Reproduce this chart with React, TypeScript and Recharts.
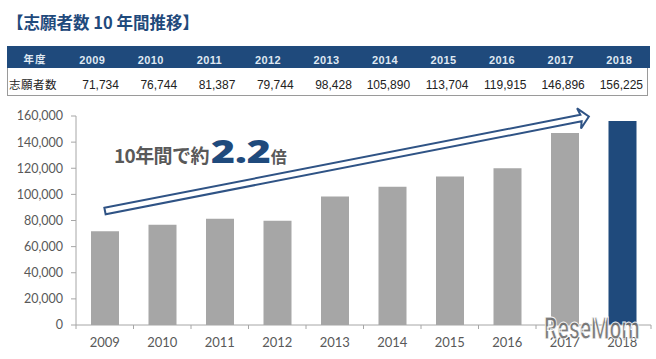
import { BarChart, Bar, XAxis, YAxis, Cell } from 'recharts';

const years = ['2009', '2010', '2011', '2012', '2013', '2014', '2015', '2016', '2017', '2018'];
const applicants = [71734, 76744, 81387, 79744, 98428, 105890, 113704, 119915, 146896, 156225];
const yTicks = [0, 20000, 40000, 60000, 80000, 100000, 120000, 140000, 160000];

const TITLE = '【志願者数 10 年間推移】';
const ROW_HEAD = '年度';
const ROW_LABEL = '志願者数';
const NOTE_LEAD = '10年間で約';
const NOTE_NUM = '2.2';
const NOTE_TAIL = '倍';

const NAVY = '#1f4a7c';
const BAR_GRAY = '#a6a6a6';
const AXIS_GRAY = '#a6a6a6';
const TEXT_GRAY = '#595959';

const W = 656;
const H = 359;
const PLOT_LEFT = 76;
const PLOT_RIGHT = 5;
const BAND = (W - PLOT_LEFT - PLOT_RIGHT) / years.length;

const data = years.map((year, i) => ({ year, value: applicants[i] }));

const fmt = (v: number) => v.toLocaleString('en-US');

// Excel-style x ticks: label in the middle, tick marks on category edges
function YearTick(props: any) {
  const { x, y, payload, index } = props;
  const last = index === years.length - 1;
  return (
    <g>
      <line x1={x - BAND / 2} x2={x - BAND / 2} y1={y} y2={y + 4} stroke={AXIS_GRAY} />
      {last && <line x1={x + BAND / 2} x2={x + BAND / 2} y1={y} y2={y + 4} stroke={AXIS_GRAY} />}
      <text x={x} y={y + 21.5} textAnchor="middle" fill={TEXT_GRAY} fontSize={13} fontFamily="Lato, sans-serif">
        {payload.value}
      </text>
    </g>
  );
}

function Arrow() {
  // hollow trend arrow, tail near 2009 bar and head just left of 2018
  const L = 493;
  const t = 3.3;
  const pts = [
    [0, -t], [L - 8, -t], [L - 10, -10.3], [L, 0], [L - 10, 10.3], [L - 8, t], [0, t],
  ].map((p) => p.join(',')).join(' ');
  return (
    <svg width={W} height={H} style={{ position: 'absolute', left: 0, top: 0, pointerEvents: 'none' }}>
      <g transform="translate(105,211) rotate(-11.05)">
        <polygon points={pts} fill="#fff" stroke="#2f5385" strokeWidth={2} strokeLinejoin="miter" />
      </g>
    </svg>
  );
}

function Table() {
  const cell = { width: BAND + 1.05, textAlign: 'center' as const };
  return (
    <>
      <div
        style={{
          position: 'absolute', left: 7, top: 46, width: 643, height: 22, background: NAVY,
          display: 'flex', alignItems: 'flex-end', paddingBottom: 2, boxSizing: 'border-box',
          color: '#dfe8f2', fontWeight: 700, fontSize: 11, fontFamily: '"Liberation Sans", Arial, sans-serif',
          letterSpacing: 0.4,
        }}
      >
        <div style={{ width: 56, textAlign: 'center', fontFamily: '"Noto Sans CJK JP", sans-serif', fontSize: 10.5, letterSpacing: 1 }}>
          {ROW_HEAD}
        </div>
        {years.map((y) => (
          <div key={y} style={cell}>{y}</div>
        ))}
      </div>
      <div
        style={{
          position: 'absolute', left: 7, top: 68, width: 641, height: 28,
          borderLeft: '1px solid #9a9a9a', borderRight: '1px solid #9a9a9a', borderBottom: '1px solid #9a9a9a',
          display: 'flex', alignItems: 'flex-end', paddingBottom: 3, boxSizing: 'border-box',
          color: '#222', fontSize: 12, fontFamily: '"Liberation Sans", Arial, sans-serif',
        }}
      >
        <div style={{ width: 56, paddingLeft: 1, fontFamily: '"Noto Sans CJK JP", sans-serif', fontSize: 11.5, letterSpacing: 0.5 }}>
          {ROW_LABEL}
        </div>
        {applicants.map((v, i) => (
          <div key={years[i]} style={{ width: BAND + 1.05, textAlign: 'right', paddingRight: 4, boxSizing: 'border-box' }}>
            {fmt(v)}
          </div>
        ))}
      </div>
    </>
  );
}

export default function App() {
  return (
    <div style={{ position: 'absolute', left: 0, top: 0, width: W, height: H, background: '#fff', overflow: 'hidden' }}>
      <BarChart width={W} height={H} data={data} margin={{ top: 116, right: PLOT_RIGHT, bottom: 4, left: 0 }}>
        <XAxis
          dataKey="year"
          height={30}
          tickLine={false}
          tickSize={0}
          tickMargin={0}
          stroke={AXIS_GRAY}
          tick={YearTick}
          interval={0}
        />
        <YAxis
          width={PLOT_LEFT}
          domain={[0, 160000]}
          ticks={yTicks}
          tickFormatter={fmt}
          tickSize={5}
          tickMargin={8}
          stroke={AXIS_GRAY}
          tick={{ fill: TEXT_GRAY, fontSize: 12.5, fontFamily: 'Lato, sans-serif' }}
        />
        <Bar dataKey="value" barSize={28} isAnimationActive={false}>
          {data.map((d, i) => (
            <Cell key={d.year} fill={i === data.length - 1 ? NAVY : BAR_GRAY} />
          ))}
        </Bar>
      </BarChart>

      <Arrow />
      <Table />

      <div
        style={{
          position: 'absolute', left: 7, top: 10, color: NAVY, fontSize: 16.5, fontWeight: 700,
          fontFamily: '"Noto Sans CJK JP", sans-serif', whiteSpace: 'nowrap',
        }}
      >
        {TITLE}
      </div>

      <div
        style={{
          position: 'absolute', left: 114, top: 130, height: 36, display: 'flex', alignItems: 'baseline',
          fontFamily: '"Noto Sans CJK JP", sans-serif', fontWeight: 700, whiteSpace: 'nowrap',
        }}
      >
        <span style={{ color: TEXT_GRAY, fontSize: 19, letterSpacing: -0.6 }}>{NOTE_LEAD}</span>
        <span
          style={{
            color: NAVY, fontSize: 31, fontFamily: '"Noto Sans", sans-serif', fontWeight: 900,
            display: 'inline-block', transform: 'scaleX(1.32)', transformOrigin: 'left', width: 58, marginLeft: 2,
          }}
        >
          {NOTE_NUM}
        </span>
        <span style={{ color: TEXT_GRAY, fontSize: 16, marginLeft: 2 }}>{NOTE_TAIL}</span>
      </div>

      <div
        style={{
          position: 'absolute', left: 544, top: 310, color: '#6e6e6e', fontSize: 31, fontWeight: 700,
          fontFamily: 'Roboto, sans-serif', transform: 'scaleX(0.68)', transformOrigin: 'left',
          WebkitTextStroke: '1px #fff', whiteSpace: 'nowrap', opacity: 0.9,
        }}
      >
        ReseMom
      </div>
    </div>
  );
}
